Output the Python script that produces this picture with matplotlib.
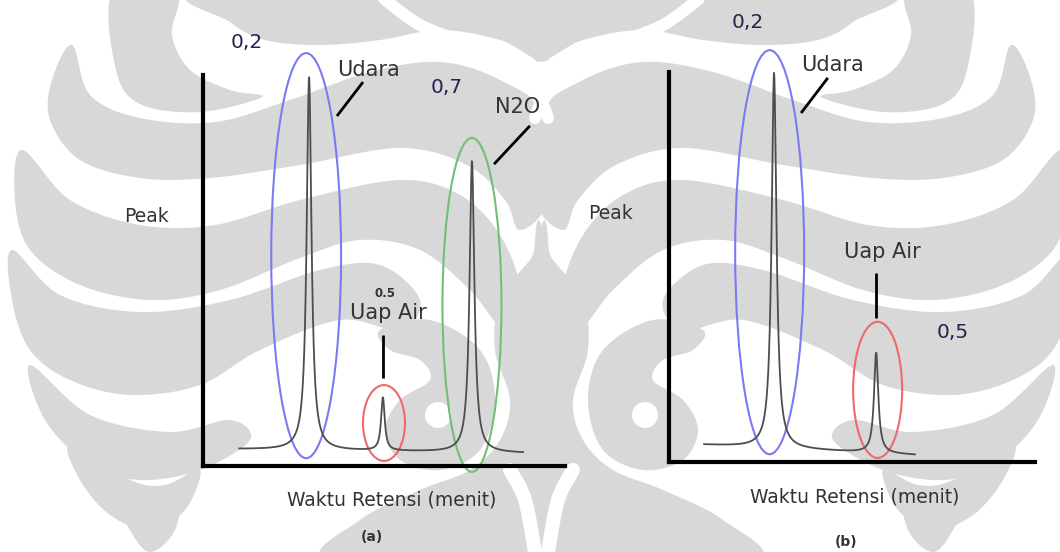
import numpy as np
import matplotlib
matplotlib.use("Agg")
import matplotlib.pyplot as plt
from matplotlib.patches import Ellipse, Polygon, Circle

# ---- chromatogram (a): retention time (min) and apex signal of each peak ----
peaks_a_time = [2.93, 4.97, 7.43]
peaks_a_apex = [0.995, 0.174, 0.78]
peaks_a_width = [0.08, 0.06, 0.08]
peaks_a_names = ["Udara", "Uap Air", "N2O"]
peaks_a_values = ["0,2", "0.5", "0,7"]
baseline_a_time = [1.0, 8.84]
baseline_a_level = [0.043, 0.033]

# ---- chromatogram (b) ----
peaks_b_time = [2.87, 5.66]
peaks_b_apex = [0.997, 0.28]
peaks_b_width = [0.08, 0.07]
peaks_b_names = ["Udara", "Uap Air"]
peaks_b_values = ["0,2", "0,5"]
baseline_b_time = [0.96, 6.72]
baseline_b_level = [0.044, 0.018]

x_label = "Waktu Retensi (menit)"
y_label = "Peak"
panel_tags = ["(a)", "(b)"]

TRACE = "#4d4d4d"
TEXT = "#333333"
NUM = "#2b2050"
MARK = "#d8d8d8"
ELL_COLORS = {"Udara": "#7a7af5", "Uap Air": "#ee6a6a", "N2O": "#72bf72"}

W, H = 1060, 552
fig = plt.figure(figsize=(W / 100, H / 100), dpi=100)
fig.patch.set_facecolor("white")

# ---- page watermark: mirrored feather emblem behind the charts ----
bg = fig.add_axes([0, 0, 1, 1], zorder=-10)
bg.set_xlim(0, W)
bg.set_ylim(H, 0)
bg.axis("off")
AXIS_X = 541.5


def closed_spline(pts, n=24):
    p = np.asarray(pts, float)
    m = len(p)
    out = []
    t = np.linspace(0, 1, n, endpoint=False)[:, None]
    for i in range(m):
        p0, p1, p2, p3 = p[i - 1], p[i], p[(i + 1) % m], p[(i + 2) % m]
        out.append(0.5 * ((2 * p1) + (-p0 + p2) * t + (2 * p0 - 5 * p1 + 4 * p2 - p3) * t ** 2
                          + (-p0 + 3 * p1 - 3 * p2 + p3) * t ** 3))
    return np.vstack(out)


def open_spline(pts, n=40):
    p = np.asarray(pts, float)
    p = np.vstack([p[0], p, p[-1]])
    out = []
    t = np.linspace(0, 1, n)[:, None]
    for i in range(1, len(p) - 2):
        p0, p1, p2, p3 = p[i - 1], p[i], p[i + 1], p[i + 2]
        out.append(0.5 * ((2 * p1) + (-p0 + p2) * t + (2 * p0 - 5 * p1 + 4 * p2 - p3) * t ** 2
                          + (-p0 + 3 * p1 - 3 * p2 + p3) * t ** 3))
    return np.vstack(out)


def both_sides(xy):
    yield xy
    m = xy.copy()
    m[:, 0] = 2 * AXIS_X - m[:, 0]
    yield m


gray_shapes = [
    # outer ear at the top
    [(113, -8), (176, -8), (172, 35), (190, 70), (230, 90), (262, 97), (200, 112), (140, 104), (116, 70)],
    # top band
    [(205, -8), (548, -8), (548, 60), (500, 40), (440, 30), (380, 40), (320, 45), (265, 40), (230, 22)],
    # upper feather sweeping to the centre
    [(72, 45), (90, 95), (140, 118), (215, 122), (290, 100), (370, 72), (440, 62), (500, 80),
     (548, 118), (548, 200), (520, 230), (505, 200), (467, 165), (400, 148), (300, 165),
     (210, 178), (140, 178), (80, 160), (50, 120), (52, 80)],
    # second feather
    [(22, 150), (70, 200), (140, 225), (215, 225), (300, 200), (400, 180), (460, 195),
     (500, 235), (520, 290), (505, 330), (470, 290), (420, 250), (360, 240), (300, 258),
     (220, 290), (150, 300), (80, 285), (30, 250), (15, 200)],
    # third feather
    [(12, 250), (60, 295), (140, 312), (230, 300), (320, 270), (380, 265), (420, 300),
     (400, 330), (340, 320), (260, 350), (200, 385), (130, 395), (70, 380), (30, 350),
     (12, 300)],
    # fourth feather
    [(30, 365), (90, 415), (170, 432), (230, 420), (250, 440), (200, 470), (140, 480),
     (90, 465), (45, 420)],
    # fifth feather
    [(70, 445), (130, 480), (165, 485), (200, 470), (185, 510), (150, 530), (110, 515), (80, 480)],
    [(120, 500), (170, 500), (183, 485), (175, 530), (150, 552), (130, 530)],
    # central trunk and lower body
    [(500, 300), (530, 260), (548, 240), (548, 560), (330, 560), (360, 520), (420, 490),
     (470, 470), (500, 440), (510, 400), (495, 350)],
    # hook around the small ring
    [(380, 330), (430, 320), (480, 350), (495, 400), (480, 450), (440, 470), (400, 460),
     (385, 430), (400, 400), (430, 380), (420, 360), (390, 350)],
]
for pts in gray_shapes:
    for xy in both_sides(closed_spline(pts)):
        bg.add_patch(Polygon(xy, closed=True, facecolor=MARK, edgecolor="none"))

# white cuts through the emblem
white_cuts = [
    ([(378, -6), (420, 25), (470, 45), (515, 72), (540, 100), (548, 118)], 12),
    ([(510, 470), (525, 500), (535, 552)], 14),
]
for pts, width in white_cuts:
    for xy in both_sides(open_spline(pts)):
        bg.plot(xy[:, 0], xy[:, 1], color="white", lw=width * 0.72, solid_capstyle="round")
for cx in (438, 2 * AXIS_X - 438):
    bg.add_patch(Circle((cx, 415), 13, facecolor="white", edgecolor="none"))


def make_axes(left, right, bottom, top):
    ax = fig.add_axes([left / W, 1 - bottom / H, (right - left) / W, (bottom - top) / H])
    ax.set_facecolor("none")
    for side in ("top", "right"):
        ax.spines[side].set_visible(False)
    for side in ("left", "bottom"):
        ax.spines[side].set_linewidth(3.0)
        ax.spines[side].set_color("black")
        ax.spines[side].set_capstyle("projecting")
    ax.set_xticks([])
    ax.set_yticks([])
    ax.set_xlim(0, 10)
    ax.set_ylim(0, 1)
    return ax


def trace(times, apex, widths, base_t, base_s):
    t = np.linspace(base_t[0], base_t[1], 3000)
    base = np.interp(t, base_t, base_s)
    s = base.copy()
    for t0, a, g in zip(times, apex, widths):
        h = a - np.interp(t0, base_t, base_s)
        s += h / (1 + ((t - t0) / g) ** 2)
    return t, s


def draw_panel(ax, times, apex, widths, names, values, base_t, base_s, ell, texts):
    t, s = trace(times, apex, widths, base_t, base_s)
    ax.plot(t, s, color=TRACE, lw=1.3, solid_joinstyle="miter")
    for name, t0 in zip(names, times):
        dx, yc, w, h = ell[name]
        ax.add_patch(Ellipse((t0 + dx, yc), w, h, fill=False,
                             edgecolor=ELL_COLORS[name], lw=1.5, clip_on=False))
    for kind, x, y, txt, kw in texts:
        if kind == "line":
            ax.plot(x, y, color="black", lw=2.0, clip_on=False, solid_capstyle="butt")
        else:
            ax.text(x, y, txt, ha="center", va="center", clip_on=False, **kw)


label_kw = dict(fontsize=15, color=TEXT)
num_kw = dict(fontsize=14.5, color=NUM)
axis_kw = dict(fontsize=13.5, color=TEXT)
tag_kw = dict(fontsize=10, color=TEXT, fontweight="bold")

# panel (a)
ax_a = make_axes(203, 565, 466, 75)
ell_a = {"Udara": (-0.08, 0.538, 1.93, 1.036),
         "Uap Air": (0.03, 0.11, 1.16, 0.194),
         "N2O": (0.0, 0.412, 1.63, 0.854)}
texts_a = [
    ("text", 1.22, 1.084, peaks_a_values[0], num_kw),
    ("text", 4.56, 1.013, peaks_a_names[0], label_kw),
    ("line", [4.42, 3.70], [0.982, 0.895], None, None),
    ("text", 6.74, 0.967, peaks_a_values[2], num_kw),
    ("text", 8.70, 0.918, peaks_a_names[2], label_kw),
    ("line", [9.03, 8.04], [0.870, 0.772], None, None),
    ("text", 5.03, 0.442, peaks_a_values[1], dict(fontsize=8.5, color=TEXT, fontweight="bold")),
    ("text", 5.11, 0.391, peaks_a_names[1], label_kw),
    ("line", [4.97, 4.97], [0.335, 0.225], None, None),
    ("text", -1.57, 0.637, y_label, axis_kw),
    ("text", 5.22, -0.087, x_label, axis_kw),
    ("text", 4.67, -0.182, panel_tags[0], tag_kw),
]
draw_panel(ax_a, peaks_a_time, peaks_a_apex, peaks_a_width, peaks_a_names,
           peaks_a_values, baseline_a_time, baseline_a_level, ell_a, texts_a)

# panel (b)
ax_b = make_axes(669, 1035, 462, 72)
ell_b = {"Udara": (-0.12, 0.538, 1.885, 1.036),
         "Uap Air": (0.04, 0.185, 1.34, 0.349)}
texts_b = [
    ("text", 2.16, 1.126, peaks_b_values[0], num_kw),
    ("text", 4.48, 1.018, peaks_b_names[0], label_kw),
    ("line", [4.34, 3.61], [0.985, 0.895], None, None),
    ("text", 5.82, 0.538, peaks_b_names[1], label_kw),
    ("line", [5.66, 5.66], [0.485, 0.369], None, None),
    ("text", 7.76, 0.331, peaks_b_values[1], num_kw),
    ("text", -1.61, 0.638, y_label, axis_kw),
    ("text", 5.06, -0.09, x_label, axis_kw),
    ("text", 4.84, -0.205, panel_tags[1], tag_kw),
]
draw_panel(ax_b, peaks_b_time, peaks_b_apex, peaks_b_width, peaks_b_names,
           peaks_b_values, baseline_b_time, baseline_b_level, ell_b, texts_b)

fig.savefig("out.png", dpi=100)
